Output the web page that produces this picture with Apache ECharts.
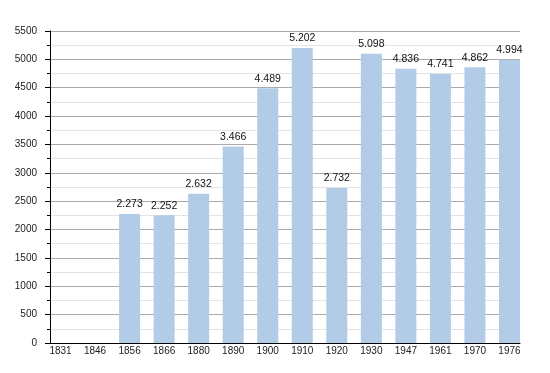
<!DOCTYPE html>
<html>
<head>
<meta charset="utf-8">
<script src="https://cdn.jsdelivr.net/npm/echarts@6/dist/echarts.min.js"></script>
<style>html,body{margin:0;padding:0;background:#fff}#c{width:550px;height:373px}</style>
</head>
<body>
<div id="c"></div>
<script>
const years = ['1831','1846','1856','1866','1880','1890','1900','1910','1920','1930','1947','1961','1970','1976'];
const population = [null, null, 2273, 2252, 2632, 3466, 4489, 5202, 2732, 5098, 4836, 4741, 4862, 4994];
const yMin = 0, yMax = 5500, yStep = 500;

function fmt(v) {
  const s = String(Math.round(v));
  return s.replace(/\B(?=(\d{3})+(?!\d))/g, '.');
}

const chart = echarts.init(document.getElementById('c'), null, {renderer: 'canvas'});
const font = 'Liberation Sans, Arial, sans-serif';
chart.setOption({
  animation: false,
  backgroundColor: '#fff',
  grid: [
    {left: 43.25, right: 23.25, top: 31, bottom: 30},
    {left: 50, right: 30, top: 31, bottom: 30}
  ],
  xAxis: [
    {type: 'category', gridIndex: 0, data: years,
     axisLine: {show: false}, axisTick: {show: false},
     axisLabel: {fontSize: 10, color: '#222', fontFamily: font, margin: 3}},
    {type: 'value', gridIndex: 1, min: 0, max: 1,
     axisLine: {show: true, onZero: false, lineStyle: {color: '#000', width: 1}},
     axisTick: {show: false}, axisLabel: {show: false}, splitLine: {show: false}}
  ],
  yAxis: [
    {type: 'value', gridIndex: 0, min: yMin, max: yMax, interval: yStep, show: false, splitLine: {show: false}},
    {type: 'value', gridIndex: 1, min: yMin, max: yMax, interval: yStep,
     axisLine: {show: true, lineStyle: {color: '#000', width: 1}},
     axisTick: {show: true, length: 5, lineStyle: {color: '#000'}},
     minorTick: {show: true, splitNumber: 2, length: 3, lineStyle: {color: '#000'}},
     splitLine: {show: true, lineStyle: {color: '#aaaaaa', width: 1}},
     minorSplitLine: {show: true, lineStyle: {color: '#e3e3e3', width: 1}},
     axisLabel: {fontSize: 10, color: '#222', fontFamily: font, margin: 13,
                 formatter: v => String(v)}}
  ],
  series: [{
    type: 'bar', xAxisIndex: 0, yAxisIndex: 0,
    data: population, barWidth: 21,
    itemStyle: {color: '#b2cbe6'},
    label: {show: true, position: 'top', distance: 4, fontSize: 10.5, color: '#111', fontFamily: font,
            formatter: p => p.value == null ? '' : fmt(p.value)}
  }]
});
</script>
</body>
</html>
